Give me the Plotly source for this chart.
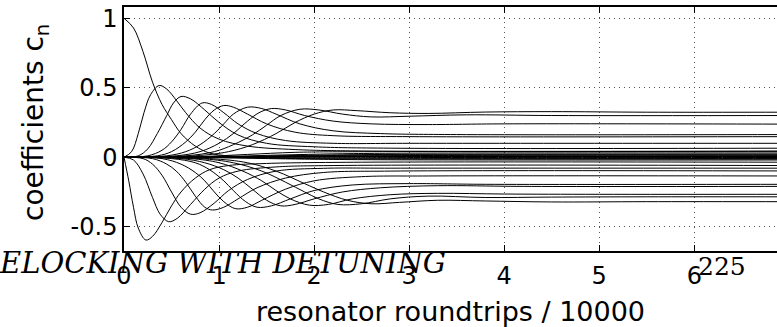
import plotly.graph_objects as go

# ---------------- data ----------------
X_TICKS = [0, 1, 2, 3, 4, 5, 6]
Y_TICKS = [-0.5, 0, 0.5, 1]
Y_TICK_TEXT = ["-0.5", "0", "0.5", "1"]

T_C0 = [0, 0.1, 0.2, 0.3, 0.4, 0.5, 0.6, 0.75, 0.9, 1.1, 1.5, 2.5, 7.0]
Y_C0 = [1, 0.93, 0.76, 0.54, 0.38, 0.27, 0.17, 0.08, 0.03, 0.01, 0.005, 0.005, 0.005]

T_N1 = [0, 0.05, 0.1, 0.15, 0.23, 0.3, 0.4, 0.5, 0.6, 0.75, 0.9, 1.1, 1.5, 2.5, 7.0]
Y_N1 = [0, -0.17, -0.36, -0.51, -0.596, -0.57, -0.47, -0.35, -0.25, -0.15, -0.09, -0.06, -0.045, -0.036, -0.036]

T_P1 = [0, 0.08, 0.15, 0.21, 0.28, 0.37, 0.45, 0.55, 0.65, 0.8, 1.0, 1.3, 1.8, 2.5, 7.0]
Y_P1 = [0, 0.04, 0.17, 0.32, 0.45, 0.516, 0.49, 0.41, 0.32, 0.21, 0.13, 0.08, 0.055, 0.045, 0.045]

T_N2 = [0, 0.1, 0.2, 0.3, 0.38, 0.47, 0.56, 0.7, 0.85, 1.0, 1.2, 1.6, 2.2, 7.0]
Y_N2 = [0, -0.02, -0.12, -0.29, -0.41, -0.464, -0.44, -0.34, -0.23, -0.15, -0.1, -0.07, -0.06, -0.06]

T_P2 = [0, 0.15, 0.25, 0.35, 0.45, 0.52, 0.6, 0.7, 0.85, 1.0, 1.2, 1.5, 2.0, 2.8, 7.0]
Y_P2 = [0, 0.01, 0.06, 0.17, 0.3, 0.39, 0.437, 0.42, 0.34, 0.25, 0.16, 0.1, 0.075, 0.065, 0.065]

T_N3 = [0, 0.2, 0.3, 0.4, 0.5, 0.6, 0.7, 0.8, 0.95, 1.1, 1.3, 1.6, 2.1, 2.8, 7.0]
Y_N3 = [0, -0.01, -0.05, -0.13, -0.25, -0.36, -0.41, -0.4, -0.33, -0.24, -0.16, -0.1, -0.08, -0.079, -0.079]

T_P3 = [0, 0.25, 0.4, 0.5, 0.6, 0.7, 0.82, 0.92, 1.05, 1.2, 1.4, 1.7, 2.2, 3.0, 7.0]
Y_P3 = [0, 0.01, 0.05, 0.11, 0.2, 0.31, 0.39, 0.38, 0.32, 0.24, 0.17, 0.12, 0.1, 0.1, 0.1]

T_N4 = [0, 0.3, 0.45, 0.55, 0.65, 0.75, 0.85, 0.93, 1.05, 1.2, 1.4, 1.7, 2.1, 2.8, 7.0]
Y_N4 = [0, -0.01, -0.05, -0.1, -0.18, -0.28, -0.36, -0.38, -0.36, -0.3, -0.22, -0.15, -0.11, -0.1, -0.099]

T_P4 = [0, 0.35, 0.5, 0.65, 0.75, 0.85, 0.95, 1.05, 1.15, 1.3, 1.5, 1.8, 2.2, 3.0, 7.0]
Y_P4 = [0, 0.01, 0.04, 0.11, 0.18, 0.27, 0.34, 0.372, 0.36, 0.31, 0.24, 0.18, 0.155, 0.148, 0.148]

T_N5 = [0, 0.4, 0.6, 0.75, 0.85, 0.95, 1.05, 1.17, 1.3, 1.45, 1.7, 2.0, 2.5, 3.2, 7.0]
Y_N5 = [0, -0.01, -0.05, -0.11, -0.17, -0.25, -0.32, -0.37, -0.36, -0.31, -0.23, -0.17, -0.14, -0.135, -0.135]

T_P5 = [0, 0.45, 0.65, 0.8, 0.95, 1.05, 1.15, 1.3, 1.45, 1.6, 1.85, 2.2, 2.7, 3.5, 7.0]
Y_P5 = [0, 0.01, 0.04, 0.09, 0.17, 0.24, 0.31, 0.36, 0.35, 0.31, 0.24, 0.19, 0.17, 0.163, 0.163]

T_N6 = [0, 0.5, 0.75, 0.9, 1.05, 1.15, 1.28, 1.4, 1.55, 1.75, 2.0, 2.4, 3.0, 3.8, 7.0]
Y_N6 = [0, -0.01, -0.04, -0.09, -0.17, -0.24, -0.32, -0.36, -0.35, -0.3, -0.24, -0.2, -0.19, -0.195, -0.195]

T_P6 = [0, 0.55, 0.8, 1.0, 1.15, 1.3, 1.42, 1.55, 1.7, 1.9, 2.2, 2.6, 3.2, 4.0, 7.0]
Y_P6 = [0, 0.01, 0.04, 0.1, 0.17, 0.26, 0.32, 0.35, 0.34, 0.3, 0.26, 0.24, 0.235, 0.24, 0.238]

T_N7 = [0, 0.6, 0.85, 1.05, 1.2, 1.35, 1.5, 1.65, 1.8, 2.0, 2.3, 2.7, 3.3, 4.2, 7.0]
Y_N7 = [0, -0.01, -0.04, -0.09, -0.15, -0.23, -0.31, -0.35, -0.34, -0.3, -0.25, -0.22, -0.205, -0.21, -0.21]

T_P7 = [0, 0.65, 0.95, 1.15, 1.35, 1.5, 1.65, 1.85, 2.05, 2.3, 2.6, 3.0, 3.6, 4.5, 7.0]
Y_P7 = [0, 0.01, 0.04, 0.09, 0.16, 0.23, 0.3, 0.345, 0.34, 0.31, 0.29, 0.295, 0.305, 0.3, 0.3]

T_N8 = [0, 0.7, 1.0, 1.25, 1.45, 1.6, 1.75, 1.95, 2.15, 2.4, 2.8, 3.3, 4.0, 5.0, 7.0]
Y_N8 = [0, -0.01, -0.04, -0.1, -0.17, -0.24, -0.3, -0.345, -0.34, -0.3, -0.27, -0.26, -0.265, -0.267, -0.267]

T_P8 = [0, 0.75, 1.1, 1.35, 1.6, 1.8, 2.0, 2.2, 2.45, 2.8, 3.2, 3.8, 4.5, 5.5, 7.0]
Y_P8 = [0, 0.01, 0.04, 0.09, 0.17, 0.25, 0.31, 0.34, 0.335, 0.32, 0.315, 0.325, 0.328, 0.324, 0.324]

T_N9 = [0, 0.8, 1.15, 1.45, 1.7, 1.9, 2.05, 2.25, 2.5, 2.8, 3.2, 3.8, 4.5, 5.5, 7.0]
Y_N9 = [0, -0.01, -0.04, -0.1, -0.18, -0.25, -0.3, -0.34, -0.335, -0.3, -0.28, -0.29, -0.287, -0.285, -0.285]

T_N10 = [0, 0.9, 1.3, 1.6, 1.9, 2.1, 2.35, 2.6, 2.9, 3.3, 3.8, 4.5, 5.5, 7.0]
Y_N10 = [0, -0.01, -0.04, -0.1, -0.19, -0.25, -0.31, -0.335, -0.325, -0.31, -0.315, -0.322, -0.32, -0.32]

T_S1 = [0, 0.8, 1.3, 1.8, 2.6, 7.0]
Y_S1 = [0, 0.005, 0.02, 0.035, 0.04, 0.04]
T_S2 = [0, 1.0, 1.6, 2.3, 3.3, 7.0]
Y_S2 = [0, 0.004, 0.015, 0.025, 0.03, 0.03]
T_S3 = [0, 1.1, 1.8, 2.8, 7.0]
Y_S3 = [0, 0.003, 0.012, 0.02, 0.022]
T_S4 = [0, 1.2, 2.0, 3.0, 7.0]
Y_S4 = [0, 0.002, 0.007, 0.012, 0.013]
T_S5 = [0, 1.0, 1.7, 2.6, 7.0]
Y_S5 = [0, -0.004, -0.012, -0.018, -0.02]
T_S6 = [0, 1.2, 2.0, 3.0, 7.0]
Y_S6 = [0, -0.002, -0.006, -0.008, -0.009]
T_S7 = [0, 1.3, 2.2, 3.2, 7.0]
Y_S7 = [0, 0.001, 0.0, -0.002, -0.002]
T_S8 = [0, 1.1, 1.9, 2.9, 7.0]
Y_S8 = [0, 0.004, 0.01, 0.016, 0.017]
T_S9 = [0, 1.1, 1.9, 2.9, 7.0]
Y_S9 = [0, -0.003, -0.01, -0.013, -0.014]
T_S10 = [0, 1.3, 2.1, 3.1, 7.0]
Y_S10 = [0, 0.002, 0.004, 0.006, 0.006]

CURVES = [
    (T_C0, Y_C0), (T_N1, Y_N1), (T_P1, Y_P1), (T_N2, Y_N2), (T_P2, Y_P2),
    (T_N3, Y_N3), (T_P3, Y_P3), (T_N4, Y_N4), (T_P4, Y_P4), (T_N5, Y_N5),
    (T_P5, Y_P5), (T_N6, Y_N6), (T_P6, Y_P6), (T_N7, Y_N7), (T_P7, Y_P7),
    (T_N8, Y_N8), (T_P8, Y_P8), (T_N9, Y_N9), (T_N10, Y_N10),
    (T_S1, Y_S1), (T_S2, Y_S2), (T_S3, Y_S3), (T_S4, Y_S4),
    (T_S5, Y_S5), (T_S6, Y_S6), (T_S7, Y_S7), (T_S8, Y_S8),
    (T_S9, Y_S9), (T_S10, Y_S10),
]

# ---------------- figure ----------------
fig = go.Figure()
for t, y in CURVES:
    fig.add_trace(go.Scatter(
        x=t, y=y, mode="lines",
        line=dict(color="black", width=1, shape="spline", smoothing=1.0),
        showlegend=False, hoverinfo="skip",
    ))

SANS = "DejaVu Sans"
SERIF = "DejaVu Serif"

axis_common = dict(
    showline=True, linecolor="black", linewidth=1.5,
    ticks="inside", ticklen=6, tickwidth=1, tickcolor="black",
    showgrid=True, gridcolor="#555555", gridwidth=1, griddash="1px,4px",
    zeroline=False,
    tickfont=dict(family=SANS, size=24, color="black"),
)

L, T, W, H = 124, 7, 653, 244   # plot area in pixels


def px_x(px):
    return (px - L) / W


def px_y(py):
    return (T + H - py) / H


fig.update_layout(
    width=777, height=327,
    margin=dict(l=L, r=777 - L - W, t=T, b=327 - T - H, autoexpand=False),
    paper_bgcolor="white", plot_bgcolor="white",
    xaxis=dict(
        range=[0, 6.87], tickvals=X_TICKS, mirror="ticks",
        ticklabelstandoff=2,
        title=dict(text="resonator roundtrips / 10000",
                   font=dict(family=SANS, size=27, color="black"), standoff=15),
        automargin=False,
        **axis_common,
    ),
    yaxis=dict(
        range=[-0.675, 1.081], tickvals=Y_TICKS, ticktext=Y_TICK_TEXT,
        automargin=False,
        **axis_common,
    ),
    annotations=[
        dict(text="coefficients c<sub>n</sub>", xref="paper", yref="paper",
             x=px_x(35), y=px_y(123), xanchor="center", yanchor="middle",
             textangle=-90, showarrow=False,
             font=dict(family=SANS, size=28, color="black")),
        dict(text="<i>ELOCKING WITH DETUNING</i>", xref="paper", yref="paper",
             x=px_x(448), y=px_y(244), xanchor="right", yanchor="top",
             showarrow=False, font=dict(family=SERIF, size=29, color="black")),
        dict(text="225", xref="paper", yref="paper",
             x=px_x(696), y=px_y(250), xanchor="left", yanchor="top",
             showarrow=False, font=dict(family=SERIF, size=25, color="black")),
    ],
)

fig.write_html("out.html", config={"displayModeBar": False},
               post_script="document.body.style.margin='0';")
